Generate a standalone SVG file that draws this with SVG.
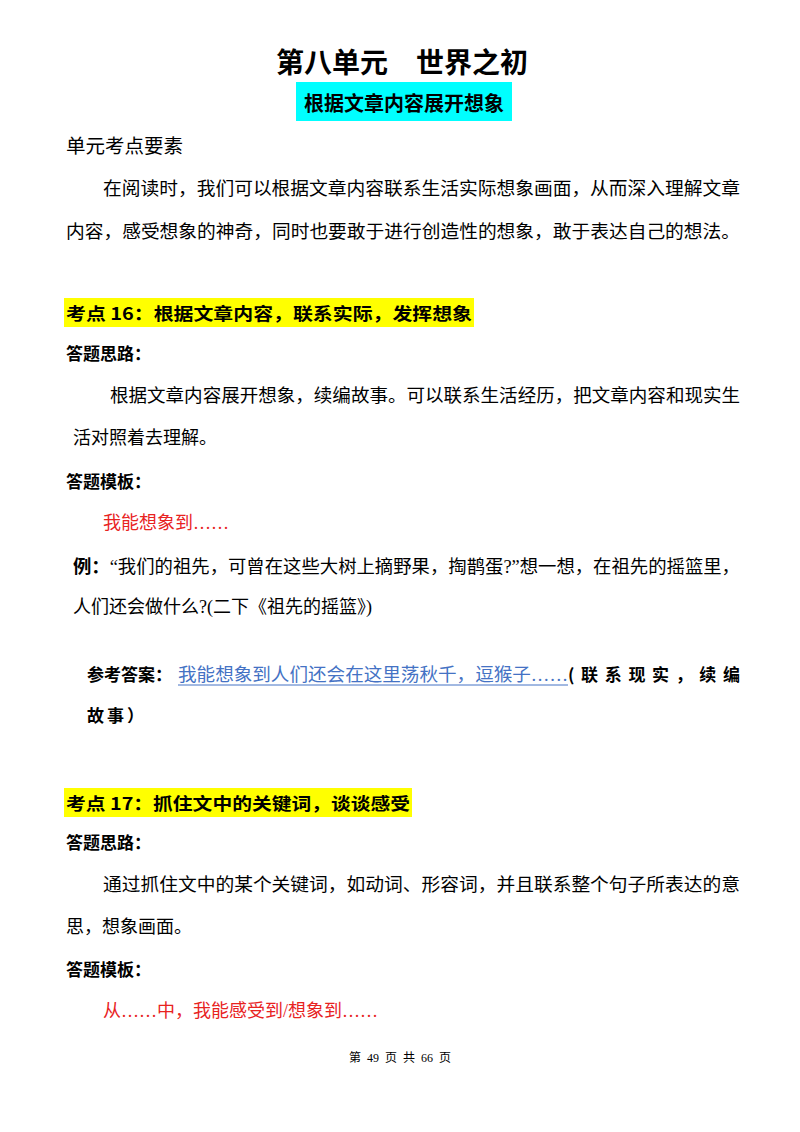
<svg xmlns="http://www.w3.org/2000/svg" width="800" height="1132" viewBox="0 0 800 1132">
<style>
text{font-family:"Liberation Serif","Noto Sans CJK SC",serif;font-size:18px;fill:#000}
.b{font-weight:bold}
.r{fill:#e8231f}
.h{font-family:"Noto Sans CJK SC",sans-serif;font-weight:bold;font-size:17px}
</style>
<rect width="800" height="1132" fill="#fff"/>
<text x="402" y="73" text-anchor="middle" class="b" style="font-family:'Noto Sans CJK SC',sans-serif;font-size:28px">第八单元　世界之初</text>
<rect x="296" y="82" width="216" height="39" fill="#00ffff"/>
<text x="404" y="111" text-anchor="middle" class="b" style="font-size:20px">根据文章内容展开想象</text>
<text x="66" y="153" style="font-size:19.5px">单元考点要素</text>
<text x="103" y="195" textLength="637" lengthAdjust="spacingAndGlyphs">在阅读时，我们可以根据文章内容联系生活实际想象画面，从而深入理解文章</text>
<text x="66" y="238" textLength="674" lengthAdjust="spacingAndGlyphs">内容，感受想象的神奇，同时也要敢于进行创造性的想象，敢于表达自己的想法。</text>
<rect x="64" y="298" width="410" height="29" fill="#ffff00"/>
<text x="66" y="320" class="h" textLength="406" lengthAdjust="spacingAndGlyphs">考点 16：根据文章内容，联系实际，发挥想象</text>
<text x="66" y="360" class="h">答题思路：</text>
<text x="110" y="402" textLength="630" lengthAdjust="spacingAndGlyphs">根据文章内容展开想象，续编故事。可以联系生活经历，把文章内容和现实生</text>
<text x="73" y="444">活对照着去理解。</text>
<text x="66" y="488" class="h">答题模板：</text>
<text x="103" y="529" class="r">我能想象到……</text>
<text x="73" y="573" textLength="667" lengthAdjust="spacingAndGlyphs"><tspan class="h" style="font-size:18px">例：</tspan>“我们的祖先，可曾在这些大树上摘野果，掏鹊蛋?”想一想，在祖先的摇篮里，</text>
<text x="73" y="613">人们还会做什么?(二下《祖先的摇篮》)</text>
<text x="87" y="681" class="h">参考答案：</text>
<text x="178" y="681" textLength="390" lengthAdjust="spacingAndGlyphs" style="fill:#4472c4">我能想象到人们还会在这里荡秋千，逗猴子……</text>
<line x1="178" y1="685" x2="568" y2="685" stroke="#4472c4" stroke-width="1"/>
<text x="568" y="681" class="h" textLength="172" lengthAdjust="spacing">(联系现实，续编</text>
<text x="87" y="722" class="h" style="letter-spacing:3px">故事）</text>
<rect x="64" y="788" width="348" height="29" fill="#ffff00"/>
<text x="66" y="810" class="h" textLength="344" lengthAdjust="spacingAndGlyphs">考点 17：抓住文中的关键词，谈谈感受</text>
<text x="66" y="849" class="h">答题思路：</text>
<text x="103" y="891" textLength="637" lengthAdjust="spacingAndGlyphs">通过抓住文中的某个关键词，如动词、形容词，并且联系整个句子所表达的意</text>
<text x="66" y="933">思，想象画面。</text>
<text x="66" y="976" class="h">答题模板：</text>
<text x="103" y="1017" class="r">从……中，我能感受到/想象到……</text>
<text x="400" y="1062" text-anchor="middle" style="font-size:12px;word-spacing:3px">第 49 页 共 66 页</text>
</svg>
